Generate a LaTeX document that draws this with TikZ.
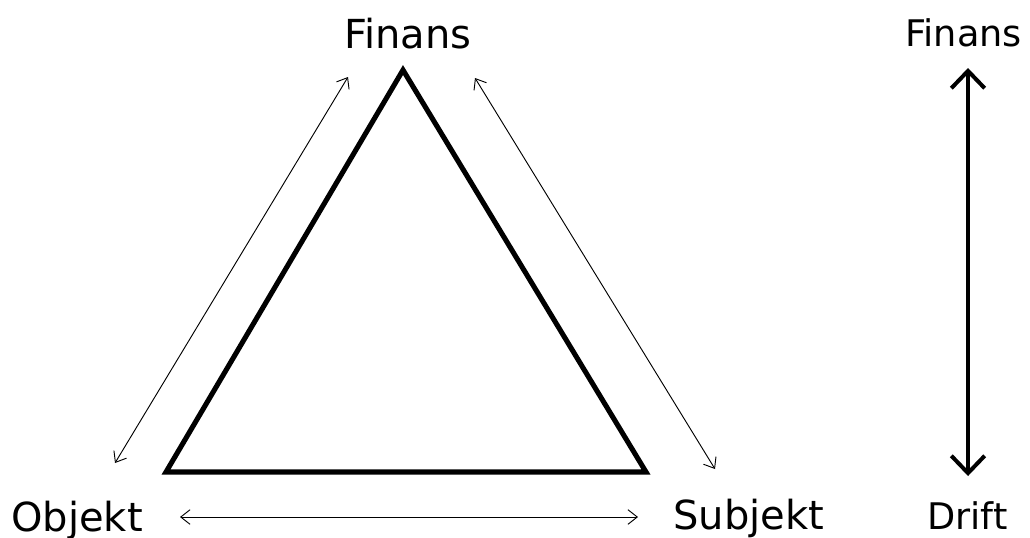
\documentclass[tikz,border=0pt]{standalone}
\usepackage{fontspec}
\setmainfont{DejaVu Sans}
\usetikzlibrary{arrows.meta, positioning}
\tikzset{
  >=Stealth,
  thinarrow/.style={{Straight Barb[length=7pt, width=11pt]}-{Straight Barb[length=7pt, width=11pt]}, line width=0.7pt, black},
  thickarrow/.style={{Straight Barb[length=13pt, width=25pt]}-{Straight Barb[length=13pt, width=25pt]}, line width=3pt, black},
  triline/.style={line width=3.8pt, line join=miter, black},
  biglabel/.style={inner sep=0pt, font=\fontsize{30}{36}\selectfont},
  sidelabel/.style={inner sep=0pt, font=\fontsize{27.5}{33}\selectfont}
}

\begin{document}
\begin{tikzpicture}[x=0.75pt, y=-0.75pt]
    \useasboundingbox (0,0) rectangle (1030,537);

    % triangle corners
    \coordinate (top) at (403,70);
    \coordinate (left) at (166,472);
    \coordinate (right) at (646,472);
    \draw[triline] (top) -- (left) -- (right) -- cycle;

    % labels
    \node (fin) [biglabel, anchor=base] at (408,48) {Finans};
    \node (obj) [biglabel, anchor=base west] at (11,531) {Objekt};
    \node (sub) [biglabel, anchor=base west] at (673,529) {Subjekt};
    \node (fin2) [sidelabel, anchor=base west] at (905,46) {Finans};
    \node (dri) [sidelabel, anchor=base west] at (927,529) {Drift};

    % arrow ends
    \coordinate (la) at (115,463);
    \coordinate (lb) at (348,77);
    \coordinate (ra) at (475,78);
    \coordinate (rb) at (715,469);
    \coordinate (ba) at (180,517);
    \coordinate (bb) at (638,517);
    \coordinate (va) at (968,68);
    \coordinate (vb) at (968,476);

    \draw[thinarrow] (la) -- (lb);
    \draw[thinarrow] (ra) -- (rb);
    \draw[thinarrow] (ba) -- (bb);
    \draw[thickarrow] (va) -- (vb);
\end{tikzpicture}
\end{document}
